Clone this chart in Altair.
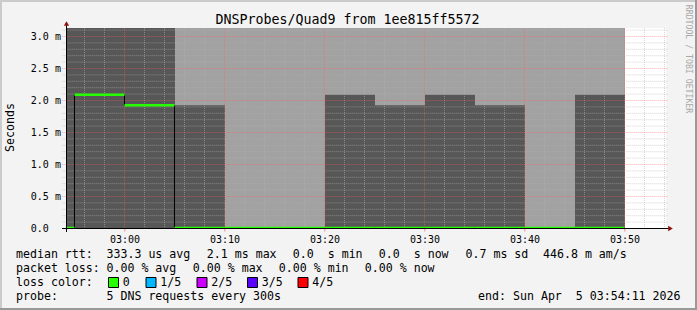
import altair as alt
import pandas as pd

# ---------------- values ----------------
window = ["02:54:11", "03:54:11"]
step_start = ["02:50", "02:55", "03:00", "03:05", "03:10", "03:15",
              "03:20", "03:25", "03:30", "03:35", "03:40", "03:45"]
step_end = ["02:55", "03:00", "03:05", "03:10", "03:15", "03:20",
            "03:25", "03:30", "03:35", "03:40", "03:45", "03:50"]
smoke_dark = [3.3, 3.3, 3.3, 1.917, 0.0, 0.0, 2.083, 1.917, 2.083, 1.917, 0.0, 2.083]
smoke_light = [3.3, 3.3, 3.3, 3.3, 3.3, 3.3, 3.3, 3.3, 3.3, 3.3, 3.3, 3.3]
median_ms = [0.0, 2.083, 1.917, 0.0, 0.0, 0.0, 0.0, 0.0, 0.0, 0.0, 0.0, 0.0]

y_ticks = [0.0, 0.5, 1.0, 1.5, 2.0, 2.5, 3.0]
y_minor = [0.1, 0.2, 0.3, 0.4, 0.6, 0.7, 0.8, 0.9, 1.1, 1.2, 1.3, 1.4, 1.6, 1.7,
           1.8, 1.9, 2.1, 2.2, 2.3, 2.4, 2.6, 2.7, 2.8, 2.9, 3.1]
x_ticks = ["03:00", "03:10", "03:20", "03:30", "03:40", "03:50"]
x_minor = ["02:56", "02:58", "03:02", "03:04", "03:06", "03:08", "03:12", "03:14",
           "03:16", "03:18", "03:22", "03:24", "03:26", "03:28", "03:32", "03:34",
           "03:36", "03:38", "03:42", "03:44", "03:46", "03:48", "03:52", "03:54"]

title_text = "DNSProbes/Quad9 from 1ee815ff5572"
legend_line1 = ["median rtt:", "333.3 us avg", "2.1 ms max", "0.0  s min",
                "0.0  s now", "0.7 ms sd", "446.8 m am/s"]
legend_line2 = ["packet loss:", "0.00 % avg", "0.00 % max", "0.00 % min", "0.00 % now"]
loss_labels = ["0", "1/5", "2/5", "3/5", "4/5"]
loss_colors = ["#26ff00", "#00b8ff", "#cc00ff", "#5a00ff", "#ff0000"]
probe_text = "5 DNS requests every 300s"
end_text = "end: Sun Apr  5 03:54:11 2026"

# ---------------- layout ----------------
W, H = 697, 310
L, T, PW, PH = 66.33, 28, 600, 200
FONT = "DejaVu Sans Mono"


def to_min(s):
    p = [int(v) for v in s.split(":")]
    return p[0] * 60 + p[1] + (p[2] / 60 if len(p) > 2 else 0)


xs = alt.Scale(domain=[to_min(window[0]), to_min(window[1])], nice=False, zero=False)
ys = alt.Scale(domain=[0, 3.125], nice=False, zero=True)

x_axis = alt.Axis(
    values=[to_min(s) for s in x_ticks],
    labelExpr="(floor(datum.value/60) < 10 ? '0' : '') + floor(datum.value/60) + ':' + "
              "(round(datum.value % 60) < 10 ? '0' : '') + round(datum.value % 60)",
    domain=False, grid=False, tickColor="#ff8080", tickSize=3, labelPadding=3,
    labelFont=FONT, labelFontSize=10, labelColor="#000000", title=None)
y_axis = alt.Axis(
    values=y_ticks,
    labelExpr="datum.value == 0 ? '0.0' : format(datum.value, '.1f') + ' m'",
    ticks=False, domain=False, grid=False, labelAlign="left", labelPadding=36,
    labelFont=FONT, labelFontSize=10, labelColor="#000000", title=None)

steps = pd.DataFrame({
    "t0": [to_min(s) for s in step_start],
    "t1": [to_min(s) for s in step_end],
    "median": median_ms,
})

smoke = pd.DataFrame({
    "t": [to_min(s) for s in step_start] + [to_min(step_end[-1])],
    "dark": smoke_dark + [smoke_dark[-1]],
    "light": smoke_light + [smoke_light[-1]],
    "m": median_ms + [median_ms[-1]],
})

light = alt.Chart(smoke).mark_area(
    color="#a2a2a2", opacity=1, interpolate="step-after", clip=True, xOffset=0.5).encode(
    x=alt.X("t:Q", scale=xs, axis=x_axis),
    y=alt.Y("light:Q", scale=ys, axis=y_axis))

dark = alt.Chart(smoke).mark_area(
    color="#575757", opacity=1, interpolate="step-after", clip=True, xOffset=0.5).encode(
    x=alt.X("t:Q", scale=xs, axis=x_axis),
    y=alt.Y("dark:Q", scale=ys, axis=y_axis))

GRID = dict(color="#b4b4b4", strokeOpacity=0.55, strokeDash=[1, 1], strokeWidth=1)
MGRID = dict(color="#ff6060", strokeOpacity=0.5, strokeDash=[1, 1], strokeWidth=1)

gx_minor = alt.Chart(pd.DataFrame({"t": [to_min(s) for s in x_minor]})).mark_rule(
    **GRID).encode(
    x=alt.X("t:Q", scale=xs, axis=x_axis), y=alt.value(0), y2=alt.value(PH))

gy_minor = alt.Chart(pd.DataFrame({"v": y_minor})).mark_rule(**GRID, yOffset=0.5).encode(
    y=alt.Y("v:Q", scale=ys, axis=y_axis), x=alt.value(-4), x2=alt.value(PW + 2))

gx_major = alt.Chart(pd.DataFrame({"t": [to_min(s) for s in x_ticks]})).mark_rule(
    **MGRID).encode(
    x=alt.X("t:Q", scale=xs, axis=x_axis), y=alt.value(0), y2=alt.value(PH))

gy_major = alt.Chart(pd.DataFrame({"v": y_ticks[1:]})).mark_rule(**MGRID, yOffset=0.5).encode(
    y=alt.Y("v:Q", scale=ys, axis=y_axis), x=alt.value(-4), x2=alt.value(PW + 2))

med_line = alt.Chart(smoke).mark_line(
    color="#000000", strokeWidth=1, interpolate="step-after", clip=True).encode(
    x=alt.X("t:Q", scale=xs, axis=x_axis), y=alt.Y("m:Q", scale=ys, axis=y_axis))

med_green = alt.Chart(steps).mark_rule(color="#26ff00", strokeWidth=2.4, clip=True).encode(
    x=alt.X("t0:Q", scale=xs, axis=x_axis), x2="t1:Q",
    y=alt.Y("median:Q", scale=ys, axis=y_axis))


# ---------- pixel-space decorations (absolute canvas coords) ----------
def px(v):
    return v - L


def py(v):
    return v - T


def prect(df, **kw):
    return alt.Chart(df).mark_rect(**kw).encode(
        x=alt.X("x0:Q", scale=None, axis=None), x2="x1:Q",
        y=alt.Y("y0:Q", scale=None, axis=None), y2="y1:Q",
        color=alt.Color("c:N", scale=None))


def ptext(df, **kw):
    return alt.Chart(df).mark_text(**kw).encode(
        x=alt.X("x:Q", scale=None, axis=None),
        y=alt.Y("y:Q", scale=None, axis=None),
        text="s:N")


def nb(s):
    return s.replace(" ", "\u00a0")


axis_lines = alt.Chart(pd.DataFrame({
    "x0": [px(62), px(66.5)], "x1": [px(669), px(66.5)],
    "y0": [py(228.5), py(232)], "y1": [py(228.5), py(24)]})).mark_rule(
    color="#000000", strokeWidth=1).encode(
    x=alt.X("x0:Q", scale=None, axis=None), x2="x1:Q",
    y=alt.Y("y0:Q", scale=None, axis=None), y2="y1:Q")

arrow_up = alt.Chart(pd.DataFrame({"x": [px(66.5)], "y": [py(23.5)]})).mark_point(
    shape="triangle-up", filled=True, color="#8f1010", size=28, opacity=1).encode(
    x=alt.X("x:Q", scale=None, axis=None), y=alt.Y("y:Q", scale=None, axis=None))
arrow_right = alt.Chart(pd.DataFrame({"x": [px(670.5)], "y": [py(228.5)]})).mark_point(
    shape="triangle-right", filled=True, color="#8f1010", size=28, opacity=1).encode(
    x=alt.X("x:Q", scale=None, axis=None), y=alt.Y("y:Q", scale=None, axis=None))

title = ptext(pd.DataFrame({"x": [px(347.5)], "y": [py(24)], "s": [title_text]}),
              font=FONT, fontSize=13.3, align="center", baseline="alphabetic", color="#000000")
ylabel = ptext(pd.DataFrame({"x": [px(10.5)], "y": [py(127.5)], "s": ["Seconds"]}),
               font=FONT, fontSize=11.6, align="center", baseline="middle", angle=270,
               color="#000000")
rrd = ptext(pd.DataFrame({"x": [px(688)], "y": [py(59)], "s": ["RRDTOOL / TOBI OETIKER"]}),
            font=FONT, fontSize=8.2, align="center", baseline="middle", angle=90,
            color="#a8a8a8")

base = [257.7, 271.7, 285.7, 299.7]
x1 = [16, 106.5, 206.8, 292.8, 378.8, 465.5, 543]
x2 = [16, 106.5, 192.8, 278.8, 364.8]
lx = [122.7, 160.2, 211.2, 261.8, 312.2]
bx = [108.5, 146, 197, 247.5, 298]
legend_rows = (
    [(x1[i], base[0], nb(s)) for i, s in enumerate(legend_line1)]
    + [(x2[i], base[1], nb(s)) for i, s in enumerate(legend_line2)]
    + [(16, base[2], nb("loss color:"))]
    + [(lx[i], base[2], s) for i, s in enumerate(loss_labels)]
    + [(16, base[3], "probe:"), (106.5, base[3], nb(probe_text))]
)
leg_df = pd.DataFrame({"x": [px(r[0]) for r in legend_rows],
                       "y": [py(r[1]) for r in legend_rows],
                       "s": [r[2] for r in legend_rows]})
legend_text = ptext(leg_df, font=FONT, fontSize=11.6, align="left",
                    baseline="alphabetic", color="#000000")
end_label = ptext(pd.DataFrame({"x": [px(680.5)], "y": [py(base[3])], "s": [nb(end_text)]}),
                  font=FONT, fontSize=11.6, align="right", baseline="alphabetic",
                  color="#000000")

boxes = prect(pd.DataFrame({
    "x0": [px(b) for b in bx], "x1": [px(b + 10) for b in bx],
    "y0": [py(277.5)] * 5, "y1": [py(287.5)] * 5, "c": loss_colors}),
    stroke="#000000", strokeWidth=1)

frame = prect(pd.DataFrame({
    "x0": [px(0), px(0), px(0), px(W - 2)],
    "x1": [px(W), px(2), px(W), px(W)],
    "y0": [py(0), py(0), py(H - 2), py(0)],
    "y1": [py(2), py(H), py(H), py(H)],
    "c": ["#cbcbcb", "#cbcbcb", "#999999", "#999999"]}))

chart = alt.layer(
    light, dark, gx_minor, gy_minor, gx_major, gy_major, med_line, med_green,
    axis_lines, arrow_up, arrow_right, title, ylabel, rrd, legend_text, end_label,
    boxes, frame
).properties(
    width=PW, height=PH,
    autosize=alt.AutoSizeParams(type="none"),
    padding={"left": L, "top": T, "right": W - L - PW, "bottom": H - T - PH},
    background="#f3f3f3",
).configure_view(stroke=None, fill="#ffffff")

chart.save("out.html", embed_options={"renderer": "svg", "actions": False})
